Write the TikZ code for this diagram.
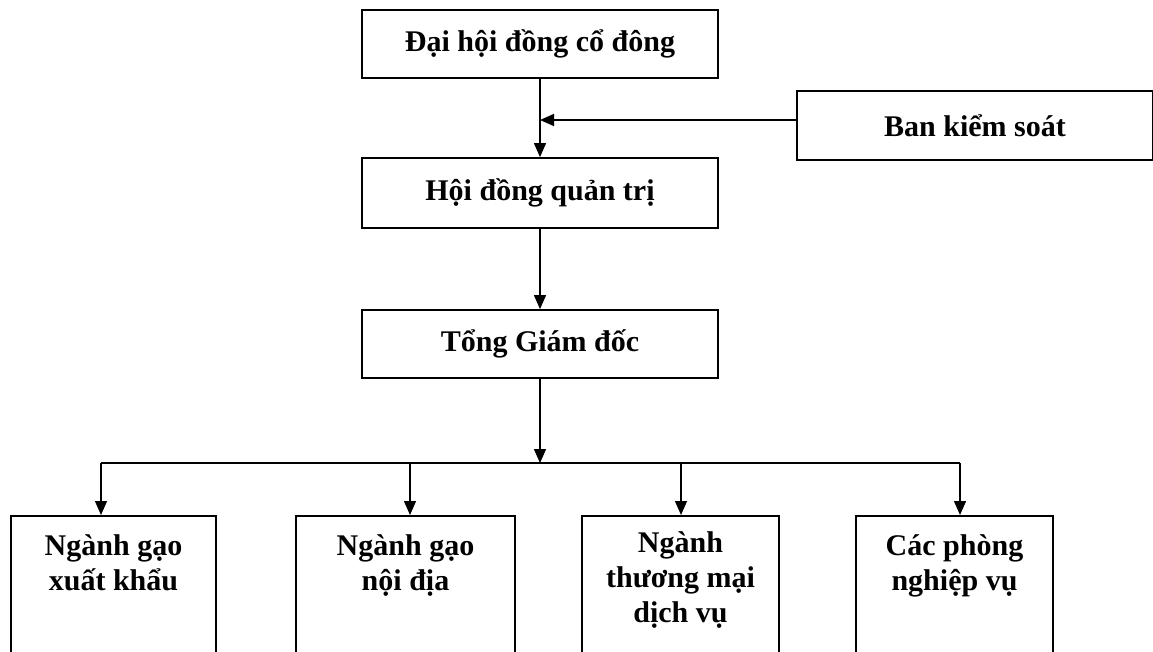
\documentclass[tikz,border=0pt]{standalone}
\usepackage{fontspec}
\setmainfont{Liberation Serif}
\usetikzlibrary{arrows.meta}
\begin{document}
\begin{tikzpicture}[x=1pt,y=-1pt,
  box/.style={draw, line width=1.8pt, inner sep=0pt, font=\fontsize{30}{35}\selectfont\bfseries},
  bbox/.style={draw, line width=1.8pt, inner sep=0pt, anchor=north, minimum height=180pt},
  btext/.style={inner sep=0pt, anchor=north, align=center, font=\fontsize{30}{35}\selectfont\bfseries},
  ln/.style={line width=1.3pt},
  arr/.style={line width=1.3pt, -{Triangle[length=14pt,width=12pt]}}]
\fill[white] (0,0) rectangle (1153,651);
\useasboundingbox (0,0) rectangle (1153,651);
\clip (0,0) rectangle (1153,651);

% top column
\node[box, minimum width=356pt, minimum height=68pt] (dh) at (540,44) {Đại hội đồng cổ đông};
\node[box, minimum width=356pt, minimum height=70pt] (hd) at (540,193) {Hội đồng quản trị};
\node[box, minimum width=356pt, minimum height=68pt] (tg) at (540,344) {Tổng Giám đốc};
\node[box, minimum width=356pt, minimum height=69pt] (bks) at (975,125.5) {Ban kiểm soát};

% bottom boxes
\node[bbox, minimum width=205pt] (b1) at (113.5,515) {};
\node[bbox, minimum width=219pt] (b2) at (405.5,515) {};
\node[bbox, minimum width=197pt] (b3) at (680.5,515) {};
\node[bbox, minimum width=197pt] (b4) at (954.5,515) {};
\node[btext] (t1) at ([yshift=-19pt]b1.north) {Ngành gạo\\xuất khẩu};
\node[btext] (t2) at ([yshift=-19pt]b2.north) {Ngành gạo\\nội địa};
\node[btext] (t3) at ([yshift=-16pt]b3.north) {Ngành\\thương mại\\dịch vụ};
\node[btext] (t4) at ([yshift=-19pt]b4.north) {Các phòng\\nghiệp vụ};

% connectors
\coordinate (j) at (540,120);
\coordinate (bar) at (540,463);
\coordinate (k1) at (101,463);
\coordinate (k2) at (410,463);
\coordinate (k3) at (681,463);
\coordinate (k4) at (960,463);

\draw[arr] (dh.south -| j) -- (hd.north -| j);
\draw[arr] (j -| bks.west) -- (j);
\draw[arr] (hd.south -| j) -- (tg.north -| j);
\draw[arr] (tg.south -| bar) -- (bar);
\draw[ln] (k1) -- (k4);
\draw[arr] (k1) -- (k1 |- b1.north);
\draw[arr] (k2) -- (k2 |- b2.north);
\draw[arr] (k3) -- (k3 |- b3.north);
\draw[arr] (k4) -- (k4 |- b4.north);
\end{tikzpicture}
\end{document}
